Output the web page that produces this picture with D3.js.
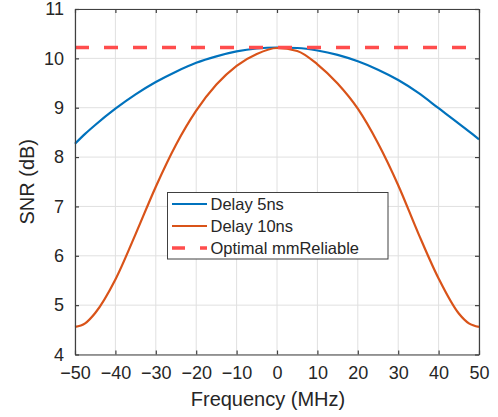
<!DOCTYPE html>
<html>
<head>
<meta charset="utf-8">
<script src="https://cdn.jsdelivr.net/npm/d3@7"></script>
<style>
  body { margin: 0; background: #fff; }
  svg text { font-family: Arial, "Liberation Sans", Helvetica, sans-serif; fill: #262626; }
</style>
</head>
<body>
<div id="chart"></div>
<script>
// frequency samples (MHz)
const freqs = [-50, -47.5, -45, -40, -35, -30, -25, -20, -15, -10, -5, 0, 5, 10, 15, 20, 25, 30, 35, 40, 45, 47.5, 50];
// SNR (dB)
const delay5 = [8.27, 8.47, 8.65, 8.98, 9.27, 9.52, 9.73, 9.91, 10.04, 10.14, 10.20, 10.22, 10.21, 10.16, 10.07, 9.94, 9.77, 9.56, 9.30, 8.99, 8.68, 8.52, 8.36];
const delay10 = [4.56, 4.63, 4.84, 5.52, 6.44, 7.40, 8.25, 8.94, 9.47, 9.85, 10.09, 10.21, 10.15, 9.88, 9.49, 8.98, 8.28, 7.43, 6.45, 5.54, 4.83, 4.63, 4.56];
const optimal = 10.22;
const xTicks = [-50, -40, -30, -20, -10, 0, 10, 20, 30, 40, 50];
const yTicks = [4, 5, 6, 7, 8, 9, 10, 11];
const legendLabels = ["Delay 5ns", "Delay 10ns", "Optimal mmReliable"];

const W = 498, H = 417;
const plotL = 75, plotR = 479, plotT = 9, plotB = 354.5;

const svg = d3.select("#chart").append("svg")
    .attr("width", W)
    .attr("height", H);

const x = d3.scaleLinear().domain([-50, 50]).range([plotL, plotR]);
const y = d3.scaleLinear().domain([4, 11]).range([plotB, plotT]);

// grid
svg.append("g")
    .selectAll("line")
    .data(xTicks)
    .join("line")
    .attr("x1", d => x(d)).attr("x2", d => x(d))
    .attr("y1", plotT).attr("y2", plotB)
    .attr("stroke", "#e0e0e0");
svg.append("g")
    .selectAll("line")
    .data(yTicks)
    .join("line")
    .attr("x1", plotL).attr("x2", plotR)
    .attr("y1", d => y(d)).attr("y2", d => y(d))
    .attr("stroke", "#e0e0e0");

// lines
const line = d3.line()
    .x(d => x(d[0]))
    .y(d => y(d[1]))
    .curve(d3.curveMonotoneX);

svg.append("path")
    .datum(freqs.map((f, i) => [f, delay5[i]]))
    .attr("fill", "none")
    .attr("stroke", "#0072BD")
    .attr("stroke-width", 2.2)
    .attr("d", line);

svg.append("path")
    .datum(freqs.map((f, i) => [f, delay10[i]]))
    .attr("fill", "none")
    .attr("stroke", "#D95319")
    .attr("stroke-width", 2.2)
    .attr("d", line);

svg.append("path")
    .datum([[-50, optimal], [50, optimal]])
    .attr("fill", "none")
    .attr("stroke", "#ff4d4d")
    .attr("stroke-width", 3.6)
    .attr("stroke-dasharray", "14,15")
    .attr("d", line);

// axes (box with inward ticks)
const fmt = d3.format("d");
const styleAxis = g => {
    g.select(".domain").attr("stroke", "#404040").attr("stroke-width", 1.2);
    g.selectAll(".tick line").attr("stroke", "#404040").attr("stroke-width", 1.2);
    g.selectAll(".tick text").attr("font-size", 18).attr("fill", "#262626")
        .style("font-family", "Arial, 'Liberation Sans', sans-serif");
};

svg.append("g")
    .attr("transform", `translate(0,${plotB})`)
    .call(d3.axisBottom(x).tickValues(xTicks).tickFormat(fmt).tickSize(-4).tickPadding(12).tickSizeOuter(0))
    .call(styleAxis);

svg.append("g")
    .attr("transform", `translate(0,${plotT})`)
    .call(d3.axisTop(x).tickValues(xTicks).tickFormat("").tickSize(-4).tickSizeOuter(0))
    .call(styleAxis);

svg.append("g")
    .attr("transform", `translate(${plotL},0)`)
    .call(d3.axisLeft(y).tickValues(yTicks).tickFormat(fmt).tickSize(-4).tickPadding(11).tickSizeOuter(0))
    .call(styleAxis);

svg.append("g")
    .attr("transform", `translate(${plotR},0)`)
    .call(d3.axisRight(y).tickValues(yTicks).tickFormat("").tickSize(-4).tickSizeOuter(0))
    .call(styleAxis);

// axis labels
svg.append("text")
    .attr("x", 268)
    .attr("y", 406)
    .attr("text-anchor", "middle")
    .attr("font-size", 20)
    .text("Frequency (MHz)");

svg.append("text")
    .attr("transform", `translate(34,${(plotT + plotB) / 2}) rotate(-90)`)
    .attr("text-anchor", "middle")
    .attr("font-size", 20)
    .text("SNR (dB)");

// legend
const lg = svg.append("g");
lg.append("rect")
    .attr("x", 167.5).attr("y", 192.5)
    .attr("width", 220.5).attr("height", 66.5)
    .attr("fill", "#fff")
    .attr("stroke", "#404040")
    .attr("stroke-width", 1);

const legendStyles = [
    { color: "#0072BD", width: 2.2, dash: null },
    { color: "#D95319", width: 2.2, dash: null },
    { color: "#ff4d4d", width: 3.6, dash: "13,15" }
];
legendLabels.forEach((label, i) => {
    const ly = 204 + i * 22;
    lg.append("line")
        .attr("x1", 172).attr("x2", 207)
        .attr("y1", ly).attr("y2", ly)
        .attr("stroke", legendStyles[i].color)
        .attr("stroke-width", legendStyles[i].width)
        .attr("stroke-dasharray", legendStyles[i].dash);
    lg.append("text")
        .attr("x", 210.5)
        .attr("y", ly)
        .attr("dy", "0.35em")
        .attr("font-size", 16.5)
        .attr("fill", "#000")
        .text(label);
});
</script>
</body>
</html>
